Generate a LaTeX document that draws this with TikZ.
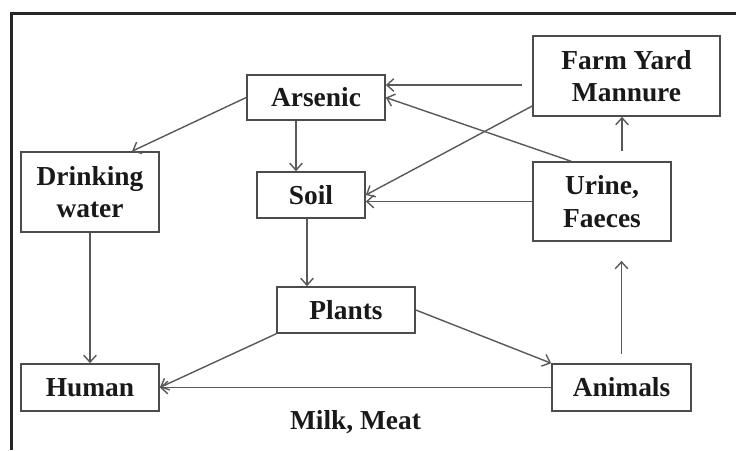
\documentclass[tikz,border=0pt]{standalone}
\usepackage{fontspec}
\setmainfont{Liberation Serif}
\usetikzlibrary{arrows.meta,positioning}

\begin{document}
\begin{tikzpicture}[
    x=0.025cm, y=-0.025cm,
    box/.style={rectangle, draw=black!70, line width=1.1pt, fill=white, align=center, inner sep=0pt, minimum width=3.45cm, minimum height=1.15cm, font=\fontsize{19.5}{23}\selectfont\bfseries, text=black!90},
    tag/.style={inner sep=0pt, font=\fontsize{19.5}{23}\selectfont\bfseries, text=black!90},
    arrow/.style={->, >={Straight Barb[length=5pt, width=9pt]}, draw=black!65, line width=1pt}
]
\useasboundingbox (0,0) rectangle (736,450);
% frame
\draw[line width=2.8pt, black!85] (11.5,450) -- (11.5,13.5) -- (736,13.5);

\node[box, minimum height=1.125cm] (arsenic) at (316,97.5) {Arsenic};
\node[box, minimum height=2cm] (water) at (90,192) {Drinking\\water};
\node[box, minimum width=2.7cm] (soil) at (311,195) {Soil};
\node[box, minimum width=4.675cm, minimum height=2cm] (fym) at (626.5,76) {Farm Yard\\Mannure};
\node[box, minimum height=1.975cm] (urine) at (602,201.5) {Urine,\\Faeces};
\node[box] (plants) at (346,310) {Plants};
\node[box, minimum height=1.175cm] (human) at (90,387.5) {Human};
\node[box, minimum width=3.475cm, minimum height=1.175cm] (animals) at (621.5,387.5) {Animals};

\draw[arrow] (arsenic.west) -- ([xshift=1.05cm]water.north);
\draw[arrow] ([xshift=-0.5cm]arsenic.south) -- ([xshift=-0.5cm]arsenic.south |- soil.north);
\draw[arrow] ([xshift=-0.1cm]soil.south) -- ([xshift=-0.1cm]soil.south |- plants.north);
\draw[arrow] (water) -- (human);
\draw[arrow] (plants.south west) -- (human.east);
\draw[arrow] (plants.east) -- (animals.north west);
\draw[arrow] (animals.west) -- node[tag, below=0.55cm] (milk) {Milk, Meat} (human.east);
\draw[arrow, shorten <=0.225cm, shorten >=0.475cm] (animals.north) -- (animals.north |- urine.south);
\draw[arrow, shorten <=0.25cm] ([xshift=0.5cm]urine.north) -- ([xshift=0.5cm]urine.north |- fym.south);
\draw[arrow, shorten <=0.25cm] ([yshift=-0.225cm]fym.west) -- ([yshift=-0.225cm]fym.west -| arsenic.east);
\draw[arrow] ([xshift=-0.775cm]urine.north) -- (arsenic.east);
\draw[arrow] ([yshift=-0.75cm]fym.west) -- (soil.east);
\draw[arrow] (urine.west) -- (urine.west -| soil.east);
\end{tikzpicture}
\end{document}
